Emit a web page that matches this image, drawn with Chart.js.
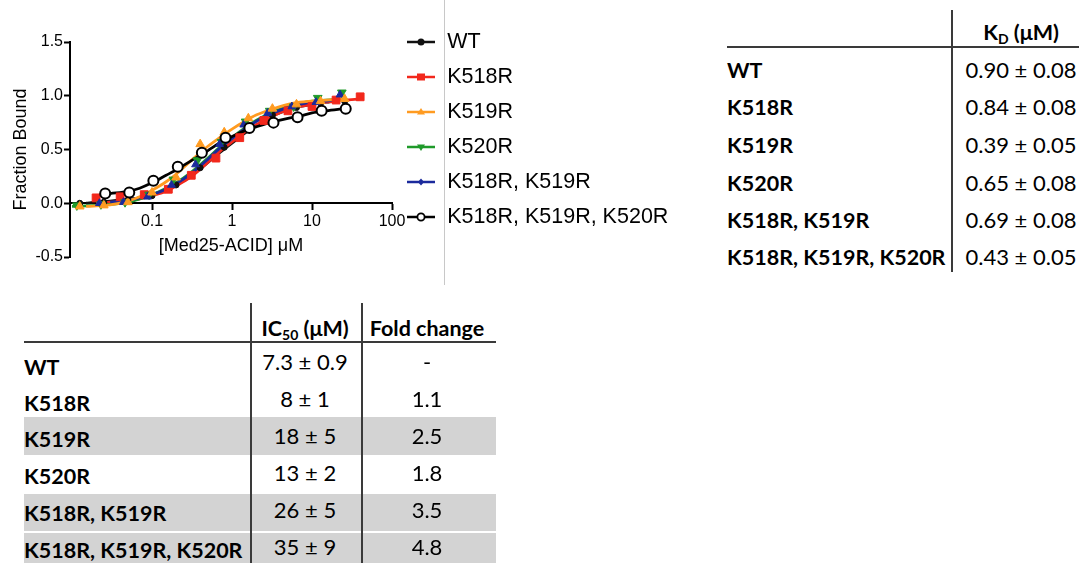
<!DOCTYPE html>
<html>
<head>
<meta charset="utf-8">
<script src="https://cdn.jsdelivr.net/npm/chart.js@4.4.0/dist/chart.umd.min.js"></script>
<style>
  body { margin: 0; background: #fff; }
  #page { position: relative; width: 1079px; height: 563px; overflow: hidden; font-family: Lato, "Open Sans", sans-serif; color: #000; }
  #plot { position: absolute; left: 0; top: 0; }
  .t { position: absolute; white-space: nowrap; transform: translateY(-50%); font-size: 22px; line-height: 26px; }
  .c { transform: translate(-50%, -50%); }
  .b { font-weight: 700; font-size: 21.5px; }
  .t sub { font-size: 14px; vertical-align: -4px; line-height: 0; }
  .hl { position: absolute; height: 2px; background: #3a3a3a; }
  .vl { position: absolute; width: 1.5px; background: #3a3a3a; }
  .band { position: absolute; background: #d3d3d3; }
</style>
</head>
<body>
<div id="page">
  <canvas id="plot" width="672" height="267"></canvas>
  <div style="position:absolute;left:444px;top:0;width:1px;height:285px;background:#c8c8c8"></div>
</div>
<script>
// binding curves, concentration in uM
const seriesNames = ['WT', 'K518R', 'K519R', 'K520R', 'K518R, K519R', 'K518R, K519R, K520R'];

const wtConc = [0.0125, 0.025, 0.05, 0.1, 0.2, 0.4, 0.8, 1.6, 3.2, 6.4, 12.8, 25.6];
const wtBound = [0.0, 0.01, 0.03, 0.07, 0.17, 0.33, 0.52, 0.7, 0.82, 0.89, 0.93, 0.95];
const k518Conc = [0.02, 0.04, 0.08, 0.16, 0.31, 0.63, 1.25, 2.5, 5, 10, 20, 40];
const k518Bound = [0.05, 0.06, 0.08, 0.13, 0.26, 0.42, 0.61, 0.77, 0.86, 0.9, 0.96, 0.99];
const k519Conc = [0.0125, 0.025, 0.05, 0.1, 0.2, 0.4, 0.8, 1.6, 3.2, 6.4, 12.8, 25.6];
const k519Bound = [-0.03, -0.02, 0.01, 0.1, 0.24, 0.55, 0.66, 0.79, 0.88, 0.92, 0.95, 0.97];
const k520Conc = [0.0115, 0.023, 0.046, 0.092, 0.185, 0.37, 0.74, 1.48, 2.96, 5.9, 11.8, 23.6];
const k520Bound = [-0.02, -0.01, 0.01, 0.08, 0.22, 0.4, 0.57, 0.76, 0.86, 0.9, 0.98, 1.03];
const dblConc = [0.022, 0.044, 0.088, 0.175, 0.35, 0.7, 1.4, 2.8, 5.6, 11.2, 22.4];
const dblBound = [0.0, 0.01, 0.06, 0.17, 0.36, 0.55, 0.73, 0.84, 0.9, 0.94, 1.01];
const triConc = [0.026, 0.052, 0.104, 0.21, 0.42, 0.83, 1.65, 3.3, 6.6, 13.2, 26.4];
const triBound = [0.09, 0.10, 0.21, 0.34, 0.47, 0.61, 0.70, 0.75, 0.80, 0.86, 0.88];

// fitted curves (null = not drawn there)
const fitConc = [0.01, 0.015, 0.02, 0.03, 0.05, 0.07, 0.1, 0.15, 0.2, 0.3, 0.5, 0.7, 1, 1.5, 2, 3, 5, 7, 10, 15, 25, 40];
const wtFit   = [null, 0.0, 0.01, 0.02, 0.04, 0.05, 0.08, 0.12, 0.17, 0.25, 0.38, 0.47, 0.56, 0.66, 0.72, 0.80, 0.87, 0.90, 0.92, 0.94, 0.96, null];
const k518Fit = [null, null, 0.0, 0.01, 0.02, 0.04, 0.07, 0.11, 0.16, 0.24, 0.38, 0.48, 0.57, 0.67, 0.73, 0.80, 0.87, 0.90, 0.92, 0.94, 0.96, 0.97];
const k519Fit = [null, -0.03, -0.025, -0.015, 0.02, 0.06, 0.12, 0.20, 0.27, 0.39, 0.53, 0.61, 0.69, 0.77, 0.82, 0.87, 0.92, 0.94, 0.95, 0.96, 0.97, null];
const k520Fit = [-0.03, -0.025, -0.02, -0.01, 0.01, 0.04, 0.08, 0.14, 0.19, 0.28, 0.42, 0.52, 0.61, 0.71, 0.77, 0.84, 0.90, 0.93, 0.95, 0.96, 0.97, null];
const dblFit  = [null, null, null, 0.01, 0.03, 0.05, 0.08, 0.13, 0.18, 0.27, 0.41, 0.51, 0.60, 0.70, 0.76, 0.83, 0.89, 0.92, 0.94, 0.95, 0.97, null];
const triFit  = [null, null, null, 0.09, 0.11, 0.14, 0.19, 0.26, 0.31, 0.39, 0.49, 0.56, 0.62, 0.68, 0.71, 0.75, 0.79, 0.81, 0.84, 0.86, 0.88, null];

const xTicks = [0.1, 1, 10, 100];
const xTickLabels = ['0.1', '1', '10', '100'];
const yTicks = [-0.5, 0, 0.5, 1, 1.5];

// tables
const kdValues = ['0.90 ± 0.08', '0.84 ± 0.08', '0.39 ± 0.05', '0.65 ± 0.08', '0.69 ± 0.08', '0.43 ± 0.05'];
const ic50Values = ['7.3 ± 0.9', '8 ± 1', '18 ± 5', '13 ± 2', '26 ± 5', '35 ± 9'];
const foldValues = ['-', '1.1', '2.5', '1.8', '3.5', '4.8'];

const colors = ['#111111', '#f2281c', '#ff9b21', '#1f9a2a', '#1b2a9c', '#000000'];
const axisFont = '"Liberation Sans", Arial, sans-serif';

function pts(xs, ys) {
    return xs.map((x, i) => ({ x: x, y: ys[i] }));
}
function fitPts(ys) {
    return fitConc.map((x, i) => ({ x: x, y: ys[i] })).filter(p => p.y !== null);
}

function legendIcon(i) {
    const c = document.createElement('canvas');
    c.width = 28; c.height = 12;
    const g = c.getContext('2d');
    const col = colors[i];
    g.strokeStyle = col; g.fillStyle = col; g.lineWidth = 2.5;
    g.beginPath(); g.moveTo(0, 6); g.lineTo(28, 6); g.stroke();
    g.beginPath();
    if (i == 0) { g.arc(14, 6, 3.5, 0, Math.PI * 2); g.fill(); }
    if (i == 1) { g.fillRect(10, 2.5, 8, 7); }
    if (i == 2) { g.moveTo(14, 2); g.lineTo(18, 8.5); g.lineTo(10, 8.5); g.closePath(); g.fill(); }
    if (i == 3) { g.moveTo(10, 3.5); g.lineTo(18, 3.5); g.lineTo(14, 10); g.closePath(); g.fill(); }
    if (i == 4) { g.moveTo(14, 2.5); g.lineTo(17, 6); g.lineTo(14, 9.5); g.lineTo(11, 6); g.closePath(); g.fill(); }
    if (i == 5) { g.arc(14, 6, 3.6, 0, Math.PI * 2); g.fillStyle = '#fff'; g.fill(); g.lineWidth = 1.8; g.stroke(); }
    return c;
}
const icons = seriesNames.map((n, i) => legendIcon(i));

const pointData = [pts(wtConc, wtBound), pts(k518Conc, k518Bound), pts(k519Conc, k519Bound),
    pts(k520Conc, k520Bound), pts(dblConc, dblBound), pts(triConc, triBound)];
const fitData = [wtFit, k518Fit, k519Fit, k520Fit, dblFit, triFit].map(fitPts);

const pointStyles = ['circle', 'rect', 'triangle', 'triangle', 'triangle', 'circle'];
const pointRadius = [3, 5.5, 5, 5, 4.5, 5];
const pointRot = [0, 0, 0, 180, 0, 0];
// drawing order: smaller = on top
const lineOrder = [16, 15, 12, 14, 13, 11];
const pointOrder = [6, 5, 2, 4, 3, 1];

const datasets = [];
seriesNames.forEach((name, i) => {
    datasets.push({
        label: name + ' fit',
        data: fitData[i],
        showLine: true,
        borderColor: colors[i],
        borderWidth: 2.8,
        pointRadius: 0,
        cubicInterpolationMode: 'monotone',
        order: lineOrder[i]
    });
    datasets.push({
        label: name,
        data: pointData[i],
        showLine: false,
        pointStyle: pointStyles[i],
        pointRadius: pointRadius[i],
        pointRotation: pointRot[i],
        pointBackgroundColor: i == 5 ? '#ffffff' : colors[i],
        pointBorderColor: colors[i],
        pointBorderWidth: i == 5 ? 2 : 1,
        order: pointOrder[i]
    });
});

const tickGrid = { display: true, drawOnChartArea: false, drawTicks: true, tickLength: 6, tickWidth: 2, tickColor: '#000' };

new Chart(document.getElementById('plot'), {
    type: 'scatter',
    data: { datasets: datasets },
    options: {
        responsive: false,
        animation: false,
        layout: { padding: { top: 17.75, left: 0, right: 0, bottom: 0 } },
        scales: {
            x: {
                type: 'logarithmic',
                position: { y: 0 },
                min: 0.00944,
                max: 100,
                afterBuildTicks: (s) => { s.ticks = xTicks.map(v => ({ value: v })); },
                ticks: {
                    color: '#000', padding: 3, maxRotation: 0, autoSkip: false,
                    font: { family: axisFont, size: 16 },
                    callback: (v, i) => xTickLabels[i]
                },
                grid: tickGrid,
                border: { display: true, color: '#000', width: 2 },
                title: { display: true, text: '[Med25-ACID] μM', color: '#000', font: { family: axisFont, size: 18 }, padding: { top: 1, bottom: 4 } }
            },
            y: {
                min: -0.5,
                max: 1.5,
                afterBuildTicks: (s) => { s.ticks = yTicks.map(v => ({ value: v })); },
                afterFit: (s) => { s.width = 70; s.paddingTop = 42; s.paddingBottom = 10; },
                ticks: {
                    color: '#000', padding: 1,
                    font: { family: axisFont, size: 16 },
                    callback: (v) => v.toFixed(1)
                },
                grid: tickGrid,
                border: { display: true, color: '#000', width: 2 },
                title: { display: true, text: 'Fraction Bound', color: '#000', font: { family: axisFont, size: 18 }, padding: { top: 10.2, bottom: 0 } }
            }
        },
        plugins: {
            tooltip: { enabled: false },
            legend: {
                position: 'right',
                align: 'start',
                maxWidth: 280,
                onClick: () => {},
                labels: {
                    usePointStyle: true,
                    pointStyleWidth: 31,
                    padding: 13.5,
                    color: '#000',
                    font: { family: axisFont, size: 21.5 },
                    generateLabels: () => seriesNames.map((n, i) => ({
                        text: n, pointStyle: icons[i], fillStyle: colors[i], strokeStyle: colors[i],
                        lineWidth: 0, hidden: false, datasetIndex: i * 2 + 1, fontColor: '#000'
                    }))
                }
            }
        }
    }
});

/* 
    Tablas KD e IC50
*/
const page = document.getElementById('page');
function add(cls, style, html) {
    const d = document.createElement('div');
    d.className = cls;
    d.setAttribute('style', style);
    if (html !== undefined) d.innerHTML = html;
    page.appendChild(d);
}

// KD table (top right)
const kdRowsY = [70, 107, 145, 183, 220, 257];
add('hl', 'left:727px;top:46px;width:352px');
add('vl', 'left:951px;top:10px;height:262px');
add('t c b', 'left:1021px;top:32px', 'K<sub>D</sub> (μM)');
seriesNames.forEach((n, i) => {
    add('t b', 'left:727px;top:' + kdRowsY[i] + 'px', n);
    add('t c', 'left:1021px;top:' + kdRowsY[i] + 'px', kdValues[i]);
});

// IC50 table (bottom left)
const icLabelY = [367, 403, 439, 476, 513, 550];
const icValueY = [362, 399, 436, 473, 510, 547];
add('band', 'left:24px;top:417px;width:472px;height:38px');
add('band', 'left:24px;top:494px;width:472px;height:37px');
add('band', 'left:24px;top:533px;width:472px;height:30px');
add('hl', 'left:24px;top:341px;width:472px');
add('vl', 'left:250px;top:303px;height:260px');
add('vl', 'left:361px;top:303px;height:260px');
add('t c b', 'left:305px;top:328px', 'IC<sub>50</sub> (μM)');
add('t c b', 'left:427px;top:328px', 'Fold change');
seriesNames.forEach((n, i) => {
    add('t b', 'left:24px;top:' + icLabelY[i] + 'px', n);
    add('t c', 'left:305px;top:' + icValueY[i] + 'px', ic50Values[i]);
    add('t c', 'left:427px;top:' + icValueY[i] + 'px', foldValues[i]);
});
</script>
</body>
</html>
